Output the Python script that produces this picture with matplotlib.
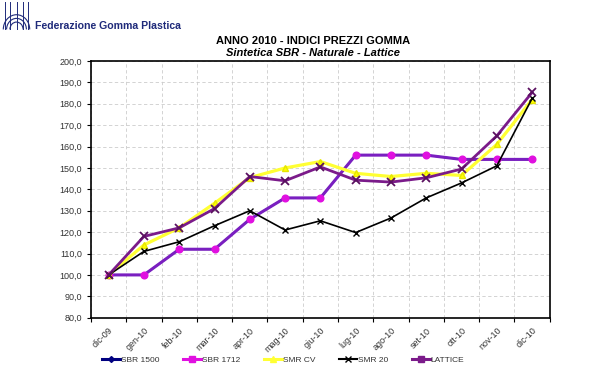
import matplotlib
matplotlib.use("Agg")
from matplotlib import pyplot as plt
from matplotlib.lines import Line2D
from matplotlib.patches import Arc
from matplotlib.ticker import FuncFormatter

mesi = ["dic-09", "gen-10", "feb-10", "mar-10", "apr-10", "mag-10", "giu-10",
        "lug-10", "ago-10", "set-10", "ott-10", "nov-10", "dic-10"]

sbr_1500 = [100, 100, 112, 112, 126, 136, 136, 156, 156, 156, 154, 154, 154]
sbr_1712 = [100, 100, 112, 112, 126, 136, 136, 156, 156, 156, 154, 154, 154]
smr_cv = [100, 114, 122, 133.5, 145.5, 150, 153, 147.5, 146, 147.5, 146.5, 161, 182]
smr_20 = [100, 111, 115.5, 123, 130, 121, 125.3, 119.8, 126.6, 136, 143, 151, 182.5]
lattice = [100, 118, 122, 131, 146, 144, 150.5, 144.3, 143.4, 145.4, 149.5, 165, 185.3]

plt.rcParams["font.family"] = ["Liberation Sans", "DejaVu Sans"]

fig = plt.figure(figsize=(6, 3.68), dpi=100)
ax = fig.add_axes([0.1517, 0.1367, 0.7645, 0.6975])

x = list(range(len(mesi)))
ax.plot(x, sbr_1500, color="#000080", lw=1.2, zorder=3)
ax.plot(x, sbr_1712, color="#7A1FC0", lw=2.2, marker="o", ms=4.8,
        mfc="#E010E0", mec="#E010E0", zorder=4)
ax.plot(x, smr_cv, color="#FFFF33", lw=2.3, marker="^", ms=5,
        mfc="#FFFF00", mec="#E6E600", zorder=5)
ax.plot(x, smr_20, color="black", lw=1.2, marker="x", ms=4.5, mew=1.0, zorder=6)
ax.plot(x, lattice, color="#7B1B8A", lw=2.0, marker="x", ms=6, mew=1.3,
        mec="#5A1060", zorder=7)

ax.set_xlim(-0.5, len(mesi) - 0.5)
ax.set_ylim(80, 200)
ax.set_yticks(range(80, 201, 10))
ax.yaxis.set_major_formatter(FuncFormatter(lambda v, p: f"{v:.1f}".replace(".", ",")))
ax.set_xticks([i + 0.5 for i in range(-1, len(mesi))], minor=False)
ax.set_xticklabels([])
ax.set_xticks(x, minor=True)
ax.set_xticklabels(mesi, minor=True, rotation=45, ha="right", rotation_mode="anchor",
                   fontsize=6.5, color="#333333")
ax.tick_params(axis="x", which="minor", length=0, pad=6)
ax.tick_params(axis="x", which="major", length=3, direction="out")
ax.tick_params(axis="y", labelsize=6.5, length=3, labelcolor="#333333")
ax.grid(True, which="major", color="#cccccc", ls=(0, (4, 3)), lw=0.6)
for s in ax.spines.values():
    s.set_linewidth(1.2)
    s.set_color("black")

fig.text(0.522, 0.888, "ANNO 2010 - INDICI PREZZI GOMMA", ha="center", va="center",
         fontsize=8, fontweight="bold")
fig.text(0.522, 0.857, "Sintetica SBR - Naturale - Lattice", ha="center", va="center",
         fontsize=8, fontweight="bold", style="italic")
fig.text(0.058, 0.93, "Federazione Gomma Plastica", ha="left", va="center",
         fontsize=7.6, fontweight="bold", color="#1F2A7A")

# rough logo
lg = fig.add_axes([0.0, 0.9, 0.055, 0.1])
lg.set_xlim(0, 1)
lg.set_ylim(0, 1)
lg.axis("off")
for r in [0.2, 0.3, 0.4]:
    lg.add_patch(Arc((0.5, 0.2), 2 * r, 2 * r, theta1=0, theta2=180, color="#1F2A7A", lw=0.8))
for xx in [0.15, 0.3, 0.5, 0.7, 0.85]:
    lg.plot([xx, xx], [0.2, 0.95], color="#1F2A7A", lw=0.7)

handles = [
    Line2D([], [], color="#000080", lw=2.2, marker="D", ms=3),
    Line2D([], [], color="#E010E0", lw=2.2, marker="s", ms=4),
    Line2D([], [], color="#FFFF33", lw=2.2, marker="^", ms=4),
    Line2D([], [], color="black", lw=1.5, marker="x", ms=4),
    Line2D([], [], color="#7B1B8A", lw=2.2, marker="s", ms=4),
]
fig.legend(handles, ["SBR 1500", "SBR 1712", "SMR CV", "SMR 20", "LATTICE"],
           loc="center", bbox_to_anchor=(0.472, 0.022), ncol=5, frameon=False,
           fontsize=6, handlelength=2.2, handletextpad=0.1, columnspacing=2.8,
           labelcolor="#333333")

fig.savefig("out.png", dpi=100)
